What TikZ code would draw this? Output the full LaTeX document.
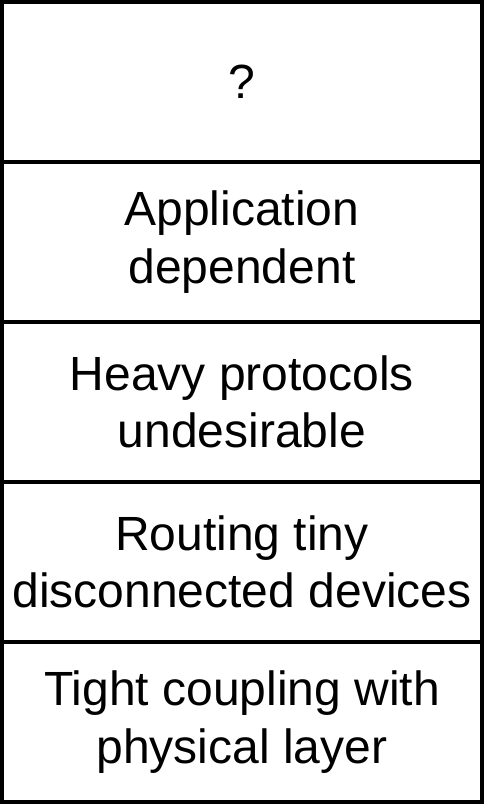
\documentclass[tikz,border=0pt]{standalone}
\usepackage{fontspec}
\setmainfont{Liberation Sans}
\begin{document}
\begin{tikzpicture}[x=1pt,y=-1pt,
  layer/.style={draw=black,line width=4pt,minimum width=480pt,minimum height=160pt,
    inner sep=0pt,outer sep=0pt,align=center,anchor=north west,
    font=\fontsize{48pt}{57.6pt}\selectfont}]
\useasboundingbox (0,0) rectangle (488,804);
\node[layer] (l1) at (2,2) {?};
\node[layer] (l2) at (2,162) {Application\\dependent};
\node[layer] (l3) at (2,322) {Heavy protocols\\undesirable};
\node[layer] (l4) at (2,482) {Routing tiny\\disconnected devices};
\node[layer] (l5) at (2,642) {Tight coupling with\\physical layer};
\end{tikzpicture}
\end{document}
